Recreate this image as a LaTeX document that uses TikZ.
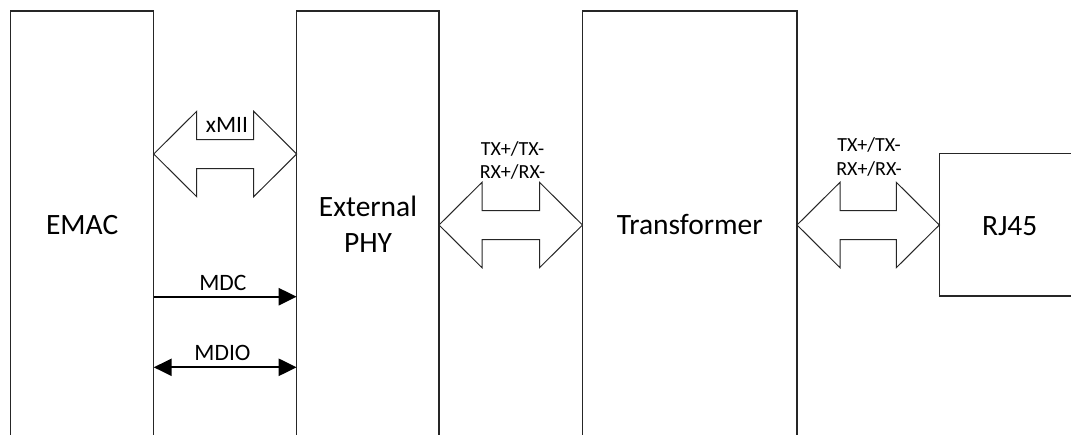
\documentclass[tikz,border=0pt]{standalone}
\usepackage{fontspec}
\setmainfont{Carlito}
\usetikzlibrary{arrows.meta,calc}
\tikzset{
  box/.style={draw=black!85, line width=1.1pt, fill=white, inner sep=0pt, outer sep=0pt},
  blk/.style={draw=black!85, line width=1pt, fill=white, line join=miter},
  bigtxt/.style={font=\fontsize{29.5}{36}\selectfont, anchor=base, inner sep=0pt},
  midtxt/.style={font=\fontsize{23.5}{28}\selectfont, anchor=base, inner sep=0pt},
  smltxt/.style={font=\fontsize{20}{23}\selectfont, anchor=base, inner sep=0pt},
  sig/.style={line width=2.3pt},
  bigtip/.tip={Triangle[length=18pt,width=17pt]}
}
\newcommand{\dblblock}[2]{%
  \draw[blk] #1 -- ++(43,-42.7) -- ++(0,28.2) -- ($#2+(-43,-14.5)$) -- ++(0,-28.2)
    -- #2 -- ++(-43,42.7) -- ++(0,-28.2) -- ($#1+(43,14.5)$) -- ++(0,28.2) -- cycle;}
\begin{document}
\begin{tikzpicture}[x=1pt,y=-1pt]
\useasboundingbox (0,0) rectangle (1071,434);
\clip (0,0) rectangle (1071,434);
\fill[white] (0,0) rectangle (1071,434);
% boxes
\node[box, minimum width=143pt, minimum height=450pt, anchor=north west] (emac) at (10.7,11) {};
\node[box, minimum width=142.3pt, minimum height=450pt, anchor=north west] (phy) at (296.7,11) {};
\node[box, minimum width=214.5pt, minimum height=450pt, anchor=north west] (tr) at (582.5,11) {};
\node[box, minimum width=160pt, minimum height=142.7pt, anchor=north west] (rj) at (939.3,153.3) {};
% box texts
\node[bigtxt] (emact) at (82.2,234) {EMAC};
\node[bigtxt] (phyt1) at (368,216) {External};
\node[bigtxt] (phyt2) at (368,252.3) {PHY};
\node[bigtxt] (trt) at (689.7,234.3) {Transformer};
\node[bigtxt] (rjt) at (1009.7,235) {RJ45};
% block arrows
\coordinate (a1l) at (emac.east |- 0,154);
\coordinate (a1r) at (phy.west |- 0,154);
\coordinate (a2l) at (phy.east |- 0,225);
\coordinate (a2r) at (tr.west |- 0,225);
\coordinate (a3l) at (tr.east |- 0,225);
\coordinate (a3r) at (rj.west |- 0,225);
\dblblock{(a1l)}{(a1r)}
\dblblock{(a2l)}{(a2r)}
\dblblock{(a3l)}{(a3r)}
% labels on block arrows
\node[midtxt] (xmii) at (227,132.7) {xMII};
\node[smltxt] (tx1) at (512.5,155) {TX+/TX-};
\node[smltxt] (rx1) at (512.5,178.3) {RX+/RX-};
\node[smltxt] (tx2) at (869,151.7) {TX+/TX-};
\node[smltxt] (rx2) at (869,175) {RX+/RX-};
% management signals
\coordinate (mdcl) at (emac.east |- 0,296.7);
\coordinate (mdcr) at (phy.west |- 0,296.7);
\coordinate (mdiol) at (emac.east |- 0,367.3);
\coordinate (mdior) at (phy.west |- 0,367.3);
\draw[sig, -bigtip] (mdcl) -- (mdcr);
\draw[sig, bigtip-bigtip] (mdiol) -- (mdior);
\node[midtxt] (mdct) at (222.8,290) {MDC};
\node[midtxt] (mdiot) at (222.5,360.7) {MDIO};
\end{tikzpicture}
\end{document}
